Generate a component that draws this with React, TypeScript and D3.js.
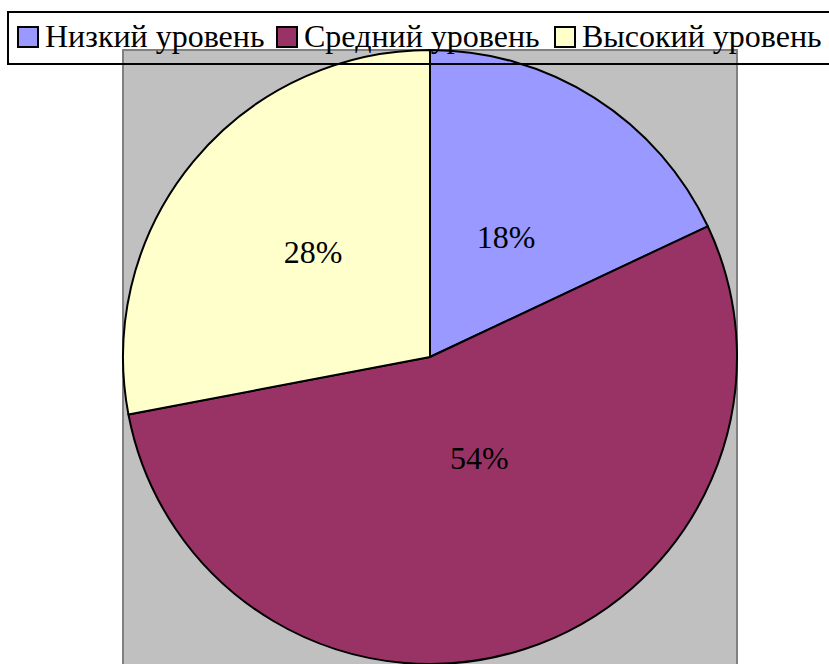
import React, { useEffect, useRef } from 'react';
import * as d3 from 'd3';

// Pie chart: уровни

const categories = ['Низкий уровень', 'Средний уровень', 'Высокий уровень'];
const values = [18, 54, 28];
const colors = ['#9999FF', '#993366', '#FFFFCC'];
// label placement (fraction of radius, angle nudge in degrees), Excel-like
const labelRadius = [0.462, 0.366, 0.513];
const labelNudge = [0, -8, 2.4];

const W = 829, H = 664;

export default function App() {
  const ref = useRef<SVGSVGElement>(null);

  useEffect(() => {
    const svg = d3.select(ref.current);
    svg.selectAll('*').remove();

    const cx = 430, cy = 357, r = 307;
    const font = "'Liberation Serif', 'Times New Roman', Times, serif";

    // plot area
    svg.append('rect')
      .attr('x', cx - r).attr('y', cy - r)
      .attr('width', 2 * r).attr('height', 2 * r + 10)
      .attr('fill', '#C0C0C0')
      .attr('stroke', '#808080').attr('stroke-width', 2);

    const pie = d3.pie<number>().sort(null).value(d => d);
    const arcs = pie(values);
    const arc = d3.arc<d3.PieArcDatum<number>>().innerRadius(0).outerRadius(r);

    const g = svg.append('g').attr('transform', `translate(${cx},${cy})`);
    g.selectAll('path')
      .data(arcs)
      .join('path')
      .attr('d', arc)
      .attr('fill', (d, i) => colors[i])
      .attr('stroke', '#000')
      .attr('stroke-width', 2)
      .attr('stroke-linejoin', 'round');

    const total = d3.sum(values);
    g.selectAll('text')
      .data(arcs)
      .join('text')
      .attr('transform', (d, i) => {
        const a = (d.startAngle + d.endAngle) / 2 + (labelNudge[i] * Math.PI) / 180;
        const [x, y] = d3.pointRadial(a, r * labelRadius[i]);
        return `translate(${x},${y})`;
      })
      .attr('text-anchor', 'middle')
      .attr('dy', '0.34em')
      .style('font-family', font)
      .style('font-size', '32px')
      .text(d => Math.round((d.value / total) * 100) + '%');

    // legend
    const legend = svg.append('g');
    legend.append('rect')
      .attr('x', 8).attr('y', 12)
      .attr('width', 840).attr('height', 52)
      .attr('fill', 'none')
      .attr('stroke', '#000').attr('stroke-width', 2);

    const itemX = [18, 277, 555];
    categories.forEach((c, i) => {
      legend.append('rect')
        .attr('x', itemX[i]).attr('y', 27)
        .attr('width', 20).attr('height', 20)
        .attr('fill', colors[i])
        .attr('stroke', '#000').attr('stroke-width', 2);
      legend.append('text')
        .attr('x', itemX[i] + 27).attr('y', 47)
        .style('font-family', font)
        .style('font-size', '32px')
        .text(c);
    });
  }, []);

  return (
    <svg ref={ref} width={W} height={H}
      style={{ position: 'absolute', left: 0, top: 0, background: '#fff' }} />
  );
}
